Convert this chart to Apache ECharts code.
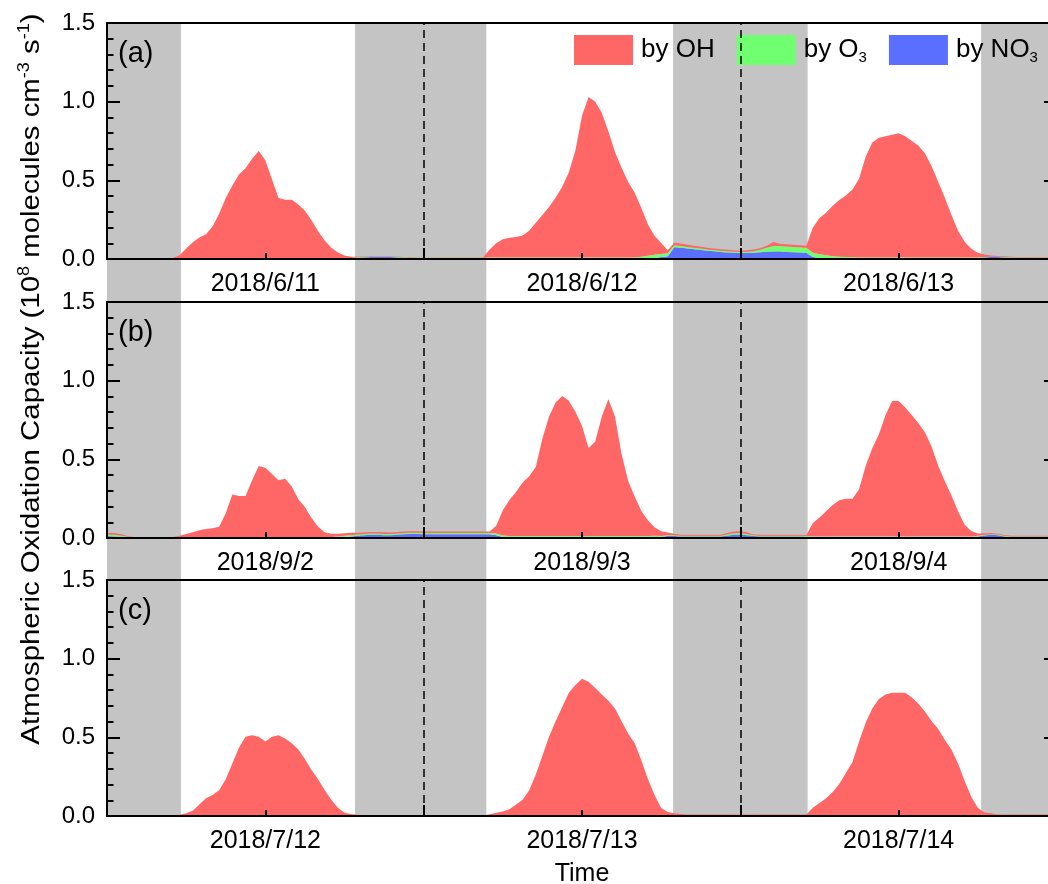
<!DOCTYPE html>
<html><head><meta charset="utf-8">
<script src="https://cdn.jsdelivr.net/npm/echarts@6/dist/echarts.min.js"></script>
<style>html,body{margin:0;padding:0;background:#fff}#c{width:1048px;height:884px}</style>
</head><body><div id="c"></div>
<script>
// ---- data (half-hour sampling, hours since 00:00 of the first day) ----
const HOURS = Array.from({length: 145}, (_, i) => i / 2);
const NIGHTS = [[0, 5.6], [18.8, 28.75], [42.9, 53.1], [66.25, 72]];
const MIDNIGHTS = [24, 48];
const NOONS = [12, 36, 60];
const DATES_A = ['2018/6/11', '2018/6/12', '2018/6/13'];
const DATES_B = ['2018/9/2', '2018/9/3', '2018/9/4'];
const DATES_C = ['2018/7/12', '2018/7/13', '2018/7/14'];
const PANEL_LABELS = ['(a)', '(b)', '(c)'];
const SERIES_NAMES = ['by OH', 'by O3', 'by NO3'];

const OH_A = [
0,0,0,0,0,0,0,0,0.001,0.002,0.003,0.02,0.06,0.1,0.13,0.15,0.2,0.28,0.38,0.46,0.53,0.57,0.63,0.68,
0.62,0.5,0.38,0.37,0.37,0.34,0.3,0.24,0.17,0.11,0.065,0.035,0.015,0.008,0.004,0.003,0.003,0.003,0.003,0.002,0.002,0.002,0.002,0.002,
0.002,0.002,0.002,0.002,0.002,0.002,0.002,0.002,0.002,0.002,0.05,0.09,0.115,0.125,0.13,0.14,0.17,0.22,0.27,0.32,0.38,0.45,0.54,0.68,
0.9,1.02,0.99,0.92,0.8,0.67,0.57,0.48,0.41,0.31,0.2,0.12,0.07,0.02,0.016,0.015,0.014,0.013,0.012,0.011,0.01,0.01,0.009,0.009,
0.008,0.009,0.01,0.011,0.013,0.025,0.015,0.014,0.014,0.013,0.013,0.16,0.23,0.27,0.32,0.36,0.39,0.43,0.5,0.64,0.73,0.76,0.77,0.78,
0.79,0.77,0.74,0.71,0.66,0.58,0.48,0.38,0.27,0.17,0.1,0.055,0.03,0.015,0.008,0.004,0.004,0.004,0.003,0.003,0.003,0.003,0.003,0.003,
0.003];
const O3_A = [
0.001,0.001,0.001,0.001,0.001,0.001,0.001,0.001,0.001,0.001,0.001,0.003,0.006,0.006,0.006,0.006,0.006,0.006,0.006,0.006,0.006,0.006,0.006,0.006,
0.006,0.006,0.006,0.006,0.006,0.006,0.006,0.006,0.006,0.006,0.006,0.006,0.006,0.003,0.003,0.003,0.003,0.003,0.003,0.003,0.003,0.003,0.003,0.003,
0.003,0.003,0.003,0.003,0.003,0.003,0.003,0.003,0.003,0.003,0.008,0.008,0.008,0.008,0.008,0.008,0.008,0.008,0.008,0.008,0.008,0.008,0.008,0.008,
0.008,0.008,0.008,0.008,0.008,0.008,0.008,0.008,0.008,0.012,0.016,0.02,0.02,0.018,0.012,0.011,0.01,0.01,0.009,0.008,0.008,0.007,0.007,0.007,
0.007,0.008,0.01,0.015,0.025,0.035,0.035,0.034,0.033,0.032,0.031,0.028,0.024,0.02,0.016,0.013,0.011,0.009,0.008,0.008,0.008,0.008,0.008,0.008,
0.008,0.008,0.008,0.008,0.008,0.008,0.008,0.008,0.008,0.008,0.008,0.008,0.003,0.003,0.003,0.003,0.003,0.003,0.003,0.003,0.003,0.003,0.003,0.003,
0.003];
const NO3_A = [
0.002,0.002,0.002,0.002,0.002,0.002,0.002,0.002,0.002,0.002,0.002,0.001,0.001,0.001,0.001,0.001,0.001,0.001,0.001,0.001,0.001,0.001,0.001,0.001,
0.001,0.001,0.001,0.001,0.001,0.001,0.001,0.001,0.001,0.001,0.001,0.001,0.001,0.004,0.008,0.01,0.012,0.013,0.013,0.012,0.01,0.008,0.007,0.006,
0.005,0.005,0.005,0.005,0.005,0.005,0.005,0.005,0.005,0.005,0.002,0.002,0.002,0.002,0.002,0.002,0.002,0.002,0.002,0.002,0.002,0.002,0.002,0.002,
0.002,0.002,0.002,0.002,0.002,0.002,0.002,0.002,0.002,0.002,0.004,0.007,0.012,0.018,0.075,0.072,0.066,0.062,0.057,0.053,0.049,0.045,0.042,0.04,
0.038,0.038,0.04,0.043,0.046,0.048,0.047,0.045,0.043,0.042,0.04,0.012,0.006,0.004,0.002,0.002,0.002,0.002,0.002,0.002,0.002,0.002,0.002,0.002,
0.002,0.002,0.002,0.002,0.002,0.002,0.002,0.002,0.002,0.002,0.002,0.002,0.006,0.01,0.012,0.012,0.01,0.008,0.007,0.006,0.005,0.005,0.005,0.005,
0.005];

const OH_B = [
0.012,0.012,0.01,0.006,0.003,0.002,0.002,0.002,0.002,0.002,0.003,0.008,0.018,0.03,0.042,0.05,0.055,0.065,0.15,0.27,0.26,0.26,0.36,0.45,
0.44,0.4,0.36,0.37,0.32,0.24,0.19,0.12,0.065,0.03,0.02,0.018,0.016,0.015,0.012,0.01,0.01,0.01,0.01,0.01,0.01,0.01,0.01,0.01,
0.01,0.01,0.01,0.01,0.01,0.01,0.01,0.01,0.01,0.01,0.01,0.05,0.16,0.23,0.28,0.34,0.38,0.44,0.62,0.76,0.85,0.89,0.86,0.79,
0.7,0.56,0.6,0.76,0.87,0.76,0.52,0.35,0.25,0.16,0.1,0.055,0.03,0.018,0.01,0.006,0.006,0.006,0.006,0.006,0.006,0.006,0.008,0.012,
0.012,0.01,0.006,0.006,0.006,0.006,0.006,0.006,0.006,0.006,0.006,0.085,0.12,0.16,0.2,0.23,0.24,0.24,0.3,0.45,0.56,0.65,0.77,0.86,
0.86,0.82,0.77,0.72,0.66,0.57,0.45,0.35,0.26,0.16,0.075,0.035,0.015,0.01,0.008,0.005,0.005,0.005,0.005,0.005,0.005,0.005,0.005,0.005,
0.005];
const O3_B = [
0.01,0.01,0.008,0.005,0.002,0.002,0.002,0.002,0.002,0.002,0.002,0.005,0.005,0.005,0.005,0.005,0.005,0.005,0.005,0.005,0.005,0.005,0.005,0.005,
0.005,0.005,0.005,0.005,0.005,0.005,0.005,0.005,0.005,0.005,0.005,0.005,0.008,0.008,0.008,0.008,0.008,0.008,0.008,0.008,0.008,0.008,0.008,0.008,
0.008,0.008,0.008,0.008,0.008,0.008,0.008,0.008,0.008,0.008,0.008,0.01,0.01,0.01,0.01,0.01,0.01,0.01,0.01,0.01,0.01,0.01,0.01,0.01,
0.01,0.01,0.01,0.01,0.01,0.01,0.01,0.01,0.01,0.01,0.01,0.01,0.005,0.005,0.005,0.005,0.005,0.005,0.005,0.005,0.005,0.005,0.008,0.01,
0.01,0.008,0.005,0.005,0.005,0.005,0.005,0.005,0.005,0.005,0.005,0.008,0.008,0.008,0.008,0.008,0.008,0.008,0.008,0.008,0.008,0.008,0.008,0.008,
0.008,0.008,0.008,0.008,0.008,0.008,0.008,0.008,0.008,0.008,0.008,0.008,0.004,0.004,0.004,0.004,0.004,0.004,0.004,0.004,0.004,0.004,0.004,0.004,
0.004];
const NO3_B = [
0.012,0.01,0.008,0.004,0.002,0.002,0.002,0.002,0.002,0.002,0.002,0.002,0.002,0.002,0.002,0.002,0.002,0.002,0.002,0.002,0.002,0.002,0.002,0.002,
0.002,0.002,0.002,0.002,0.002,0.002,0.002,0.002,0.002,0.002,0.002,0.004,0.006,0.01,0.014,0.017,0.02,0.02,0.018,0.017,0.02,0.024,0.025,0.025,
0.024,0.024,0.024,0.024,0.024,0.024,0.024,0.024,0.024,0.024,0.024,0.018,0.006,0.002,0.002,0.002,0.002,0.002,0.002,0.002,0.002,0.002,0.002,0.002,
0.002,0.002,0.002,0.002,0.002,0.002,0.002,0.002,0.002,0.002,0.002,0.004,0.008,0.012,0.012,0.01,0.01,0.01,0.01,0.01,0.01,0.01,0.015,0.02,
0.022,0.018,0.012,0.01,0.01,0.01,0.01,0.01,0.01,0.01,0.008,0.002,0.002,0.002,0.002,0.002,0.002,0.002,0.002,0.002,0.002,0.002,0.002,0.002,
0.002,0.002,0.002,0.002,0.002,0.002,0.002,0.002,0.002,0.002,0.002,0.002,0.01,0.016,0.02,0.018,0.01,0.005,0.005,0.005,0.005,0.005,0.005,0.005,
0.005];

const OH_C = [
0.001,0.001,0.001,0.001,0.001,0.001,0.001,0.001,0.001,0.001,0.003,0.008,0.015,0.03,0.07,0.11,0.13,0.16,0.23,0.33,0.43,0.5,0.51,0.5,
0.47,0.5,0.51,0.49,0.46,0.42,0.36,0.29,0.23,0.16,0.1,0.05,0.02,0.01,0.006,0.003,0.003,0.003,0.003,0.003,0.003,0.003,0.003,0.003,
0.003,0.003,0.003,0.003,0.003,0.003,0.003,0.003,0.003,0.003,0.01,0.018,0.025,0.04,0.07,0.1,0.16,0.26,0.38,0.5,0.6,0.69,0.78,0.83,
0.87,0.85,0.81,0.77,0.73,0.68,0.6,0.52,0.46,0.35,0.23,0.13,0.05,0.025,0.015,0.01,0.007,0.007,0.007,0.007,0.007,0.007,0.007,0.007,
0.007,0.007,0.007,0.007,0.007,0.007,0.007,0.007,0.007,0.007,0.008,0.05,0.08,0.11,0.15,0.2,0.27,0.34,0.47,0.59,0.68,0.74,0.77,0.78,
0.78,0.78,0.75,0.71,0.66,0.6,0.55,0.48,0.42,0.33,0.22,0.12,0.05,0.02,0.015,0.008,0.008,0.008,0.008,0.008,0.008,0.008,0.008,0.008,
0.008];
const O3_C = [
0,0,0,0,0,0,0,0,0,0,0,0,0.003,0.003,0.003,0.003,0.003,0.003,0.003,0.003,0.003,0.003,0.003,0.003,
0.003,0.003,0.003,0.003,0.003,0.003,0.003,0.003,0.003,0.003,0.003,0.003,0.001,0.001,0.001,0.001,0.001,0.001,0.001,0.001,0.001,0.001,0.001,0.001,
0.001,0.001,0.001,0.001,0.001,0.001,0.001,0.001,0.001,0.001,0.001,0.003,0.003,0.003,0.003,0.003,0.003,0.003,0.003,0.003,0.003,0.003,0.003,0.003,
0.003,0.003,0.003,0.003,0.003,0.003,0.003,0.003,0.003,0.003,0.003,0.003,0.001,0.001,0.001,0.001,0.001,0.001,0.001,0.001,0.001,0.001,0.001,0.001,
0.001,0.001,0.001,0.001,0.001,0.001,0.001,0.001,0.001,0.001,0.001,0.003,0.003,0.003,0.003,0.003,0.003,0.003,0.003,0.003,0.003,0.003,0.003,0.003,
0.003,0.003,0.003,0.003,0.003,0.003,0.003,0.003,0.003,0.003,0.003,0.003,0.001,0.001,0.001,0.001,0.001,0.001,0.001,0.001,0.001,0.001,0.001,0.001,
0.001];
const NO3_C = [
0.001,0.001,0.001,0.001,0.001,0.001,0.001,0.001,0.001,0.001,0.001,0,0,0,0,0,0,0,0,0,0,0,0,0,
0,0,0,0,0,0,0,0,0,0,0,0,0,0.001,0.001,0.001,0.001,0.001,0.001,0.001,0.001,0.001,0.001,0.001,
0.001,0.001,0.001,0.001,0.001,0.001,0.001,0.001,0.001,0.001,0,0,0,0,0,0,0,0,0,0,0,0,0,0,
0,0,0,0,0,0,0,0,0,0,0,0,0,0,0.001,0.001,0.001,0.001,0.001,0.001,0.001,0.001,0.001,0.001,
0.001,0.001,0.001,0.001,0.001,0.001,0.001,0.001,0.001,0.001,0.001,0,0,0,0,0,0,0,0,0,0,0,0,0,
0,0,0,0,0,0,0,0,0,0,0,0,0.001,0.001,0.001,0.001,0.001,0.001,0.001,0.001,0.001,0.001,0.001,0.001,
0.001];

const PANELS = [
  {dates: DATES_A, oh: OH_A, o3: O3_A, no3: NO3_A},
  {dates: DATES_B, oh: OH_B, o3: O3_B, no3: NO3_B},
  {dates: DATES_C, oh: OH_C, o3: O3_C, no3: NO3_C}
];
PANELS.forEach((p, k) => ['oh', 'o3', 'no3'].forEach(key => {
  if (p[key].length !== HOURS.length) throw new Error('panel ' + k + ' ' + key + ' length ' + p[key].length);
}));

// ---- layout & style ----
const FONT = '"Liberation Sans", Arial, sans-serif';
const GRID_LEFT = 107, GRID_W = 950, PANEL_H = 236;
const PANEL_TOPS = [23, 302, 580];
const COLORS = {oh: '#ff6666', o3: '#70ff70', no3: '#5a6eff', night: '#c4c4c4'};
const BLACK = '#000';

const isNoon = i => NOONS.indexOf(HOURS[i]) >= 0;
const isMidnight = i => MIDNIGHTS.indexOf(HOURS[i]) >= 0;
const isHalfDay = i => isNoon(i) || isMidnight(i);

const grids = [], xAxes = [], yAxes = [], series = [], graphics = [];

PANELS.forEach((p, k) => {
  grids.push({left: GRID_LEFT, width: GRID_W, top: PANEL_TOPS[k], height: PANEL_H, outerBoundsMode: 'none', containLabel: false});
  const xi = xAxes.length;
  xAxes.push({
    gridIndex: k, type: 'category', data: HOURS, boundaryGap: false, position: 'bottom', z: 5,
    axisLine: {show: true, onZero: false, lineStyle: {color: BLACK, width: 2}},
    axisTick: {show: true, inside: true, length: 6, interval: i => isHalfDay(i), lineStyle: {color: BLACK, width: 2}},
    splitLine: {show: false},
    axisLabel: {show: true, margin: 13, fontSize: 25, color: BLACK, fontFamily: FONT, hideOverlap: false,
      interval: i => isNoon(i),
      formatter: (v, i) => { const j = NOONS.indexOf(HOURS[i]); return j >= 0 ? p.dates[j] : ''; }},
    name: k === 2 ? 'Time' : '', nameLocation: 'middle', nameGap: 46,
    nameTextStyle: {fontSize: 25, color: BLACK, fontFamily: FONT}
  });
  xAxes.push({
    gridIndex: k, type: 'value', position: 'top', min: 0, max: 72, z: 5,
    axisLine: {show: true, onZero: false, lineStyle: {color: BLACK, width: 2}},
    axisTick: {show: false}, axisLabel: {show: false}, splitLine: {show: false}
  });
  xAxes.push({
    gridIndex: k, type: 'category', data: HOURS, boundaryGap: false, position: 'bottom', z: 5,
    axisLine: {show: false, onZero: false},
    axisTick: {show: true, inside: true, length: 11, interval: i => isMidnight(i), lineStyle: {color: BLACK, width: 2}},
    axisLabel: {show: false}, splitLine: {show: false}
  });
  const yi = yAxes.length;
  ['left', 'right'].forEach(pos => {
    yAxes.push({
      gridIndex: k, type: 'value', position: pos, min: 0, max: 1.5, interval: 0.5, z: 5,
      axisLine: {show: true, onZero: false, lineStyle: {color: BLACK, width: 2}},
      axisTick: {show: true, inside: true, length: 13, lineStyle: {color: BLACK, width: 2}},
      minorTick: {show: true, splitNumber: 5, length: 6.5, lineStyle: {color: BLACK, width: 2}},
      splitLine: {show: false}, minorSplitLine: {show: false},
      axisLabel: {show: pos === 'left', margin: 12, fontSize: 24, color: BLACK, fontFamily: FONT,
        formatter: v => v.toFixed(1)}
    });
  });
  [['by NO3', p.no3, COLORS.no3], ['by O3', p.o3, COLORS.o3], ['by OH', p.oh, COLORS.oh]].forEach(([name, vals, col], j) => {
    const s = {
      type: 'line', name, xAxisIndex: xi, yAxisIndex: yi, stack: 'panel' + k,
      data: vals,
      symbol: 'none', showSymbol: false, color: col,
      lineStyle: {width: 0}, areaStyle: {color: col, opacity: 1},
      z: 2, silent: true, animation: false
    };
    if (j === 2) {
      s.markLine = {
        silent: true, symbol: ['none', 'none'], label: {show: false},
        lineStyle: {color: BLACK, width: 1.5, type: [8, 5]},
        data: MIDNIGHTS.map(m => ({xAxis: HOURS.indexOf(m)}))
      };
    }
    series.push(s);
  });
  graphics.push({
    type: 'text', left: GRID_LEFT + 11, top: PANEL_TOPS[k] + 16, z: 20,
    style: {text: PANEL_LABELS[k], fontSize: 29, fontFamily: FONT, fill: BLACK}
  });
});

// background grid spanning all three panels for night shading
const bgGrid = grids.length;
grids.push({left: GRID_LEFT, width: GRID_W, top: PANEL_TOPS[0], height: PANEL_TOPS[2] + PANEL_H - PANEL_TOPS[0], outerBoundsMode: 'none', containLabel: false});
const bgX = xAxes.length;
xAxes.push({gridIndex: bgGrid, type: 'value', min: 0, max: 72, show: false});
const bgY = yAxes.length;
yAxes.push({gridIndex: bgGrid, type: 'value', min: 0, max: 1, show: false});
series.push({
  type: 'line', name: 'night', xAxisIndex: bgX, yAxisIndex: bgY, data: [], z: -10, silent: true, animation: false,
  markArea: {silent: true, z: -10, itemStyle: {color: COLORS.night},
    data: NIGHTS.map(n => [{xAxis: n[0]}, {xAxis: n[1]}])}
});

graphics.push({
  type: 'text', x: 32, y: 379, rotation: Math.PI / 2, scaleX: 1.13, z: 20,
  style: {
    text: 'Atmospheric Oxidation Capacity (10{sup|8} molecules cm{sup|-3} s{sup|-1})',
    fontSize: 26, fontFamily: FONT, fill: BLACK, align: 'center', verticalAlign: 'middle', lineHeight: 30,
    rich: {sup: {fontSize: 16, fontFamily: FONT, fill: BLACK, lineHeight: 14, verticalAlign: 'top'}}
  }
});

const chart = echarts.init(document.getElementById('c'), null, {renderer: 'canvas'});
chart.setOption({
  animation: false,
  backgroundColor: '#fff',
  grid: grids, xAxis: xAxes, yAxis: yAxes, series,
  legend: {
    data: SERIES_NAMES, left: 574, top: 35, padding: 0, itemWidth: 59, itemHeight: 30, itemGap: 22,
    icon: 'rect', selectedMode: false,
    textStyle: {fontSize: 26, color: BLACK, fontFamily: FONT, lineHeight: 30, padding: [0, 0, 0, 3],
      rich: {sub: {fontSize: 15, fontFamily: FONT, color: BLACK, lineHeight: 12, verticalAlign: 'bottom'}}},
    formatter: n => n.replace('3', '{sub|3}')
  },
  graphic: graphics
});
</script></body></html>
